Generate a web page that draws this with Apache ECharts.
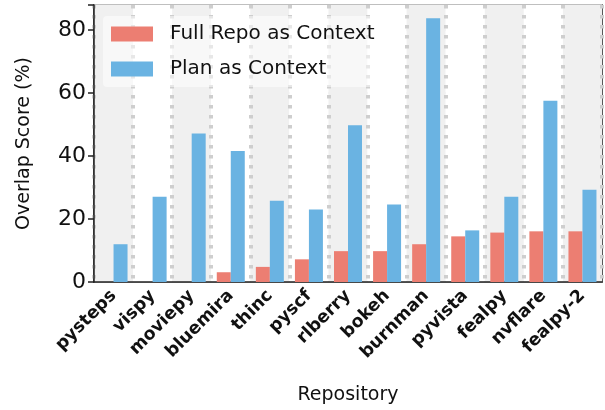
<!DOCTYPE html>
<html>
<head>
<meta charset="utf-8">
<script src="https://cdn.jsdelivr.net/npm/echarts@6/dist/echarts.min.js"></script>
<style>
  html, body { margin: 0; padding: 0; background: #fff; }
  #chart { width: 605px; height: 410px; }
</style>
</head>
<body>
<div id="chart"></div>
<script>
// 数据
var repos = ['pysteps', 'vispy', 'moviepy', 'bluemira', 'thinc', 'pyscf', 'rlberry',
    'bokeh', 'burnman', 'pyvista', 'fealpy', 'nvflare', 'fealpy-2'];
var fullRepo = [0, 0, 0, 3.1, 4.8, 7.2, 9.8, 9.8, 12.0, 14.5, 15.7, 16.1, 16.1];
var planCtx = [12.0, 27.1, 47.2, 41.6, 25.8, 23.0, 49.8, 24.6, 83.8, 16.4, 27.1, 57.6, 29.3];
var yTicks = [0, 20, 40, 60, 80];

var font = 'DejaVu Sans';
var myChart = echarts.init(document.getElementById('chart'));

var option = {
    animation: false,
    textStyle: { fontFamily: font },
    grid: {
        left: 94, right: 3, top: 5, bottom: 126,
        show: true, borderColor: '#222', borderWidth: 1.5
    },
    legend: {
        orient: 'vertical',
        left: 103, top: 16,
        padding: [8, 8, 8, 8],
        backgroundColor: 'rgba(255,255,255,0.5)',
        borderRadius: 4,
        itemWidth: 42, itemHeight: 15, itemGap: 15,
        icon: 'rect',
        textStyle: { fontSize: 20, color: '#111', fontFamily: font, padding: [0, 0, 0, 12] },
        data: ['Full Repo as Context', 'Plan as Context']
    },
    xAxis: {
        type: 'category',
        data: repos,
        name: 'Repository',
        nameLocation: 'middle',
        nameGap: 104,
        nameTextStyle: { fontSize: 19, color: '#111', fontFamily: font },
        axisLine: { lineStyle: { color: '#222', width: 1.5 } },
        axisTick: { alignWithLabel: true, length: 6, lineStyle: { color: '#222', width: 1.5 } },
        axisLabel: { rotate: 45, fontSize: 17.5, fontWeight: 'bold', color: '#111', fontFamily: font, margin: 11, interval: 0 },
        splitArea: { show: true, areaStyle: { color: ['#f0f0f0', '#ffffff'] } },
        splitLine: { show: true, lineStyle: { color: '#cecece', width: 4, type: [3.5, 6.5] } }
    },
    yAxis: {
        type: 'value',
        min: 0, max: 88, interval: 20,
        name: 'Overlap Score (%)',
        nameLocation: 'middle',
        nameGap: 60,
        nameTextStyle: { fontSize: 19, color: '#111', fontFamily: font },
        axisLine: { show: true, lineStyle: { color: '#222', width: 1.5 } },
        axisTick: { show: true, length: 6, lineStyle: { color: '#222', width: 1.5 } },
        axisLabel: {
            fontSize: 22, color: '#111', fontFamily: font, margin: 8,
            formatter: function(v) { return yTicks.indexOf(v) >= 0 ? String(v) : ''; }
        },
        splitLine: { show: true, lineStyle: { color: '#e2e2e2', width: 1.5 } }
    },
    series: [{
        name: 'Full Repo as Context',
        type: 'bar',
        data: fullRepo,
        barWidth: 14,
        barGap: '0%',
        itemStyle: { color: '#ec7e72' }
    }, {
        name: 'Plan as Context',
        type: 'bar',
        data: planCtx,
        barWidth: 14,
        itemStyle: { color: '#6ab3e2' }
    }]
};
myChart.setOption(option);
</script>
</body>
</html>
